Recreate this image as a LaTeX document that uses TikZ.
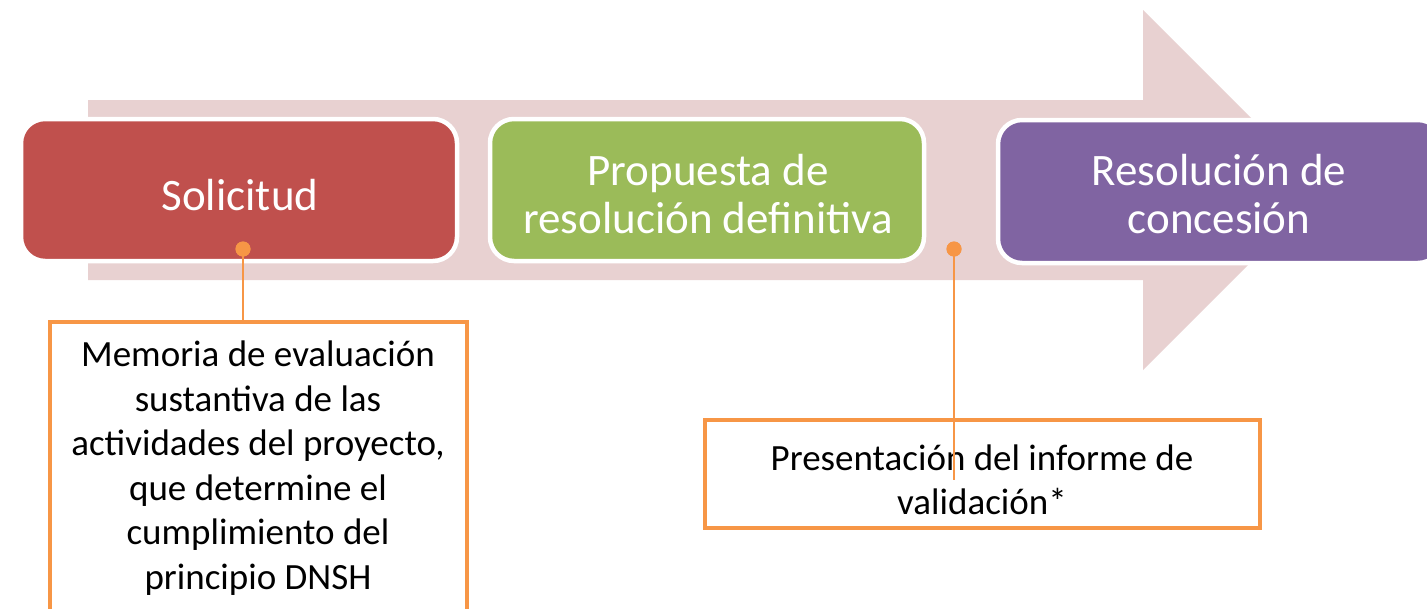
\documentclass[tikz,border=0pt]{standalone}
\usepackage{fontspec}
\setmainfont{Carlito}
\definecolor{arrowbg}{RGB}{232,209,209}
\definecolor{redbox}{RGB}{192,80,77}
\definecolor{greenbox}{RGB}{155,187,89}
\definecolor{purplebox}{RGB}{128,100,162}
\definecolor{orangeline}{RGB}{247,150,70}
\begin{document}
\begin{tikzpicture}[x=1pt,y=-1pt,
  stagebox/.style={draw=white, line width=4.5pt, rounded corners=24pt, inner sep=0pt},
  titletext/.style={text=white, align=center, inner sep=0pt, font=\fontsize{45}{48}\selectfont},
  notebox/.style={draw=orangeline, line width=4pt, fill=white, inner sep=0pt},
  notetext/.style={text=black, align=center, inner sep=0pt, font=\fontsize{37}{44.5}\selectfont},
  dotnode/.style={circle, fill=orangeline, minimum size=15pt, inner sep=0pt},
  conn/.style={draw=orangeline, line width=2pt}]
\clip (0,0) rectangle (1427,608);
\fill[white] (0,0) rectangle (1427,608);
% big background arrow
\fill[arrowbg] (88,100) -- (1143,100) -- (1143,10) -- (1323,190) -- (1143,370) -- (1143,280) -- (88,280) -- cycle;
% stage boxes
\node[stagebox, fill=redbox, minimum width=436pt, minimum height=142pt] (sol) at (239,190) {};
\node[stagebox, fill=greenbox, minimum width=434pt, minimum height=142pt] (prop) at (707,190) {};
\node[stagebox, fill=purplebox, minimum width=444pt, minimum height=143pt] (res) at (1220,191.5) {};
\node[titletext] (solT) at (240,195) {Solicitud};
\node[titletext] (propT) at (708,194) {Propuesta de\\resolución definitiva};
\node[titletext] (resT) at (1219,194) {Resolución de\\concesión};
% note boxes
\node[notebox, minimum width=417pt, minimum height=296pt] (mem) at (258.5,470) {};
\node[notetext] (memT) at (258,468) {Memoria de evaluación\\sustantiva de las\\actividades del proyecto,\\que determine el\\cumplimiento del\\principio DNSH};
\node[notebox, minimum width=555pt, minimum height=108pt] (pres) at (982.5,474) {};
\node[notetext] (presT) at (982,480) {Presentación del informe de\\validación*};
% connectors
\node[dotnode] (d1) at (243,249) {};
\node[dotnode] (d2) at (954,249) {};
\coordinate (e2) at (954,480);
\draw[conn] (d1.center) -- (d1.center |- mem.north);
\draw[conn] (d2.center) -- (e2);
\node[dotnode] at (d1) {};
\node[dotnode] at (d2) {};
\end{tikzpicture}
\end{document}
